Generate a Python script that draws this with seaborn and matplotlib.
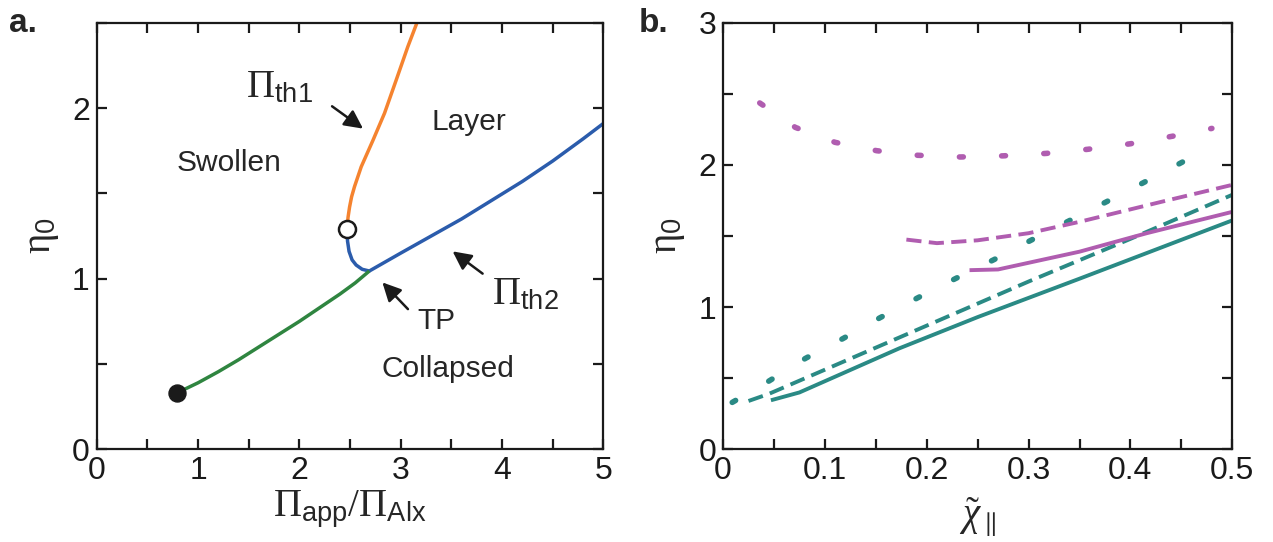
import numpy as np
import pandas as pd
import seaborn as sns
import matplotlib.pyplot as plt
from matplotlib.ticker import MultipleLocator, FuncFormatter

# ---- panel a: phase diagram ----
th1_x = [2.47, 2.48, 2.495, 2.515, 2.544, 2.61, 2.725, 2.84, 2.955, 3.07, 3.16]
th1_y = [1.29, 1.36, 1.42, 1.48, 1.54, 1.656, 1.81, 1.97, 2.164, 2.36, 2.50]

th2_x = [2.47, 2.475, 2.49, 2.52, 2.56, 2.62, 2.69, 3.00, 3.30, 3.60, 3.90,
         4.20, 4.50, 4.80, 5.00]
th2_y = [1.29, 1.22, 1.16, 1.11, 1.08, 1.055, 1.045, 1.15, 1.25, 1.35, 1.46,
         1.57, 1.69, 1.82, 1.91]

coex_x = [0.79, 1.00, 1.20, 1.40, 1.60, 1.80, 2.00, 2.20, 2.40, 2.55, 2.69]
coex_y = [0.33, 0.39, 0.455, 0.525, 0.60, 0.675, 0.75, 0.83, 0.91, 0.975, 1.045]

crit_pt = (0.79, 0.33)   # filled circle
branch_pt = (2.47, 1.29)  # open circle

# ---- panel b: threshold vs chi ----
teal_solid_x = [0.047, 0.075, 0.173, 0.25, 0.35, 0.50]
teal_solid_y = [0.345, 0.40, 0.71, 0.93, 1.20, 1.61]

teal_dash_x = [0.025, 0.045, 0.10, 0.20, 0.30, 0.40, 0.50]
teal_dash_y = [0.34, 0.39, 0.56, 0.87, 1.18, 1.48, 1.79]

teal_dot_x = [0.009, 0.045, 0.081, 0.118, 0.154, 0.191, 0.228, 0.266, 0.302,
              0.340, 0.377, 0.414, 0.451, 0.480]
teal_dot_y = [0.33, 0.48, 0.64, 0.78, 0.925, 1.065, 1.20, 1.334, 1.469,
              1.608, 1.743, 1.88, 2.02, 2.125]

purp_solid_x = [0.242, 0.27, 0.35, 0.416, 0.50]
purp_solid_y = [1.26, 1.265, 1.39, 1.52, 1.67]

purp_dash_x = [0.18, 0.21, 0.25, 0.30, 0.35, 0.43, 0.50]
purp_dash_y = [1.475, 1.45, 1.47, 1.52, 1.60, 1.74, 1.86]

purp_dot_x = [0.036, 0.071, 0.11, 0.151, 0.191, 0.233, 0.275, 0.317, 0.358,
              0.40, 0.442, 0.48]
purp_dot_y = [2.436, 2.264, 2.159, 2.10, 2.068, 2.056, 2.064, 2.081, 2.11,
              2.149, 2.203, 2.257]

ORANGE, BLUE, GREEN = "#f5832f", "#2b5cac", "#2f8540"
TEAL, PURPLE = "#2a8a85", "#b05db0"

sns.set_theme(style="ticks")
plt.rcParams["font.family"] = ["Liberation Sans", "DejaVu Sans"]
plt.rcParams["mathtext.fontset"] = "custom"
plt.rcParams["mathtext.rm"] = "Liberation Serif"
plt.rcParams["mathtext.it"] = "Liberation Serif:italic"
plt.rcParams["mathtext.sf"] = "Liberation Sans"
plt.rcParams["axes.linewidth"] = 1.6

fig = plt.figure(figsize=(12.73, 5.42), dpi=100)
ax_a = fig.add_axes([0.076, 0.171, 0.398, 0.787])
ax_b = fig.add_axes([0.568, 0.171, 0.400, 0.787])


def line(ax, x, y, color, ls="-", lw=2.6, cap="butt"):
    sns.lineplot(x=x, y=y, ax=ax, color=color, linewidth=lw, linestyle=ls,
                 sort=False, estimator=None, dash_capstyle=cap,
                 solid_capstyle="butt", solid_joinstyle="round")


# panel a
line(ax_a, th1_x, th1_y, ORANGE, lw=2.5)
line(ax_a, th2_x, th2_y, BLUE, lw=2.5)
line(ax_a, coex_x, coex_y, GREEN, lw=2.5)
sns.scatterplot(x=[crit_pt[0]], y=[crit_pt[1]], ax=ax_a, color="#1a1a1a",
                s=150, edgecolor="#1a1a1a", zorder=5)
sns.scatterplot(x=[branch_pt[0]], y=[branch_pt[1]], ax=ax_a, color="white",
                s=150, edgecolor="#1a1a1a", linewidth=1.8, zorder=5)

ax_a.set_xlim(0, 5)
ax_a.set_ylim(0, 2.5)
ax_a.xaxis.set_major_locator(MultipleLocator(1))
ax_a.xaxis.set_minor_locator(MultipleLocator(0.5))
ax_a.yaxis.set_major_locator(MultipleLocator(1))
ax_a.yaxis.set_minor_locator(MultipleLocator(0.5))
ax_a.set_xlabel(r"$\Pi_{\mathsf{app}}/\Pi_{\mathsf{Alx}}$", fontsize=28, labelpad=2)
ax_a.set_ylabel(r"$\mathrm{\eta}_{\mathsf{0}}$", fontsize=28, labelpad=8)

txt = dict(fontsize=21.5, ha="center", va="center")
ax_a.text(1.31, 1.68, "Swollen", **txt)
ax_a.text(3.67, 1.92, "Layer", **txt)
ax_a.text(3.47, 0.47, "Collapsed", **txt)
ax_a.text(3.35, 0.75, "TP", **txt)
ax_a.text(1.80, 2.12, r"$\Pi_{\mathsf{th1}}$", fontsize=28, ha="center", va="center")
ax_a.text(4.23, 0.91, r"$\Pi_{\mathsf{th2}}$", fontsize=28, ha="center", va="center")

arrow = dict(arrowstyle="-|>", color="#1a1a1a", lw=1.8, mutation_scale=28)
ax_a.annotate("", xy=(2.65, 1.87), xytext=(2.30, 2.02), arrowprops=arrow)
ax_a.annotate("", xy=(2.80, 0.99), xytext=(3.09, 0.81), arrowprops=arrow)
ax_a.annotate("", xy=(3.49, 1.17), xytext=(3.83, 1.02), arrowprops=arrow)

# panel b
line(ax_b, teal_solid_x, teal_solid_y, TEAL, lw=2.8)
line(ax_b, teal_dash_x, teal_dash_y, TEAL, ls=(0, (3.9, 1.9)), lw=2.8)
line(ax_b, teal_dot_x, teal_dot_y, TEAL, ls=(0, (0.7, 6.9)), lw=4.0, cap="round")
line(ax_b, purp_solid_x, purp_solid_y, PURPLE, lw=2.8)
line(ax_b, purp_dash_x, purp_dash_y, PURPLE, ls=(0, (3.9, 1.9)), lw=2.8)
line(ax_b, purp_dot_x, purp_dot_y, PURPLE, ls=(0, (0.7, 6.9)), lw=4.0, cap="round")

ax_b.set_xlim(0, 0.5)
ax_b.set_ylim(0, 3)
ax_b.xaxis.set_major_locator(MultipleLocator(0.1))
ax_b.xaxis.set_minor_locator(MultipleLocator(0.05))
ax_b.yaxis.set_major_locator(MultipleLocator(1))
ax_b.yaxis.set_minor_locator(MultipleLocator(0.5))
ax_b.xaxis.set_major_formatter(FuncFormatter(lambda v, p: "0" if abs(v) < 1e-9 else f"{v:.1f}"))
ax_b.set_xlabel(r"$\tilde{\chi}_{\parallel}$", fontsize=28, labelpad=6)
ax_b.set_ylabel(r"$\mathrm{\eta}_{\mathsf{0}}$", fontsize=28, labelpad=8)

for ax in (ax_a, ax_b):
    ax.tick_params(which="both", direction="in", top=True, right=True,
                   length=7, width=1.6, colors="#1a1a1a", labelsize=23, pad=5)
    for s in ax.spines.values():
        s.set_color("#1a1a1a")

fig.text(0.007, 0.985, "a.", fontsize=24, fontweight="bold", va="top")
fig.text(0.502, 0.985, "b.", fontsize=24, fontweight="bold", va="top")

fig.savefig("out.png", dpi=100)
